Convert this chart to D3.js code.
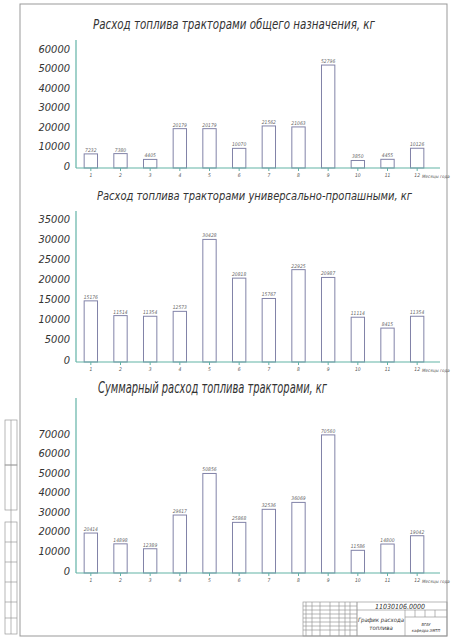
<!DOCTYPE html>
<html>
<head>
    <meta charset="utf-8">
    <title>График расхода топлива</title>
    <script src="https://d3js.org/d3.v7.min.js"></script>
    <style>
        body { margin: 0; background: #fff; }
        svg { display: block; }
        text { font-family: "DejaVu Sans Condensed", "DejaVu Sans", sans-serif; font-style: italic; fill: #333; }
    </style>
</head>
<body>
    <svg id="chart"></svg>

    <script>
        // data
        const months = ["1", "2", "3", "4", "5", "6", "7", "8", "9", "10", "11", "12"];
        const generalUse = [7232, 7380, 4405, 20179, 20179, 10070, 21562, 21063, 52796, 3850, 4455, 10126];
        const rowCrop = [15176, 11514, 11354, 12573, 30428, 20818, 15767, 22925, 20987, 11114, 8415, 11354];
        const totalUse = [20414, 14898, 12389, 29617, 50856, 25868, 32536, 36069, 70560, 11586, 14800, 19042];
        const ticks1 = [0, 10000, 20000, 30000, 40000, 50000, 60000];
        const ticks2 = [0, 5000, 10000, 15000, 20000, 25000, 30000, 35000];
        const ticks3 = [0, 10000, 20000, 30000, 40000, 50000, 60000, 70000];

        const width = 452;
        const height = 640;
        const axisColor = "#62b3a6";
        const barColor = "#8283a8";

        const svg = d3.select("#chart")
            .attr("width", width)
            .attr("height", height);

        // drawing frame
        svg.append("rect")
            .attr("x", 20).attr("y", 4)
            .attr("width", 427).attr("height", 632)
            .attr("fill", "none").attr("stroke", "#999").attr("stroke-width", 1);

        const xScale = d3.scaleBand()
            .domain(months)
            .range([76, 432])
            .paddingInner(0.55)
            .paddingOuter(0.275);

        function drawChart(cfg) {
            const g = svg.append("g");
            const yScale = d3.scaleLinear()
                .domain([0, cfg.max])
                .range([cfg.base, cfg.top]);

            // title
            g.append("text")
                .attr("x", cfg.titleX)
                .attr("y", cfg.titleY)
                .attr("textLength", cfg.titleW)
                .attr("lengthAdjust", "spacingAndGlyphs")
                .style("font-size", cfg.titleSize + "px")
                .text(cfg.title);

            // bars
            g.selectAll(".bar")
                .data(cfg.values)
                .enter()
                .append("rect")
                .attr("x", (d, i) => xScale(months[i]))
                .attr("y", d => yScale(d))
                .attr("width", xScale.bandwidth())
                .attr("height", d => cfg.base - yScale(d))
                .attr("fill", "#fff")
                .attr("stroke", barColor)
                .attr("stroke-width", 1);

            // value labels
            g.selectAll(".val")
                .data(cfg.values)
                .enter()
                .append("text")
                .attr("x", (d, i) => xScale(months[i]) + xScale.bandwidth() / 2)
                .attr("y", d => yScale(d) - 2)
                .attr("text-anchor", "middle")
                .style("font-size", "5px")
                .style("fill", "#666")
                .text(d => d);

            // y axis
            const yAxis = g.append("g")
                .attr("transform", "translate(76,0)")
                .call(d3.axisLeft(yScale).tickValues(cfg.ticks).tickSize(0).tickPadding(6).tickFormat(d3.format("d")));
            yAxis.select(".domain").remove();
            yAxis.selectAll("text")
                .attr("dy", "0.1em")
                .style("font-size", "11px")
                .style("font-family", "'DejaVu Sans Condensed', sans-serif")
                .style("fill", "#333");
            g.append("line")
                .attr("x1", 76).attr("x2", 76)
                .attr("y1", cfg.axisTop).attr("y2", cfg.base)
                .attr("stroke", axisColor).attr("stroke-width", 1.2);

            // x axis
            const xAxis = g.append("g")
                .attr("transform", `translate(0,${cfg.base})`)
                .call(d3.axisBottom(xScale).tickSize(3).tickPadding(2));
            xAxis.select(".domain").remove();
            xAxis.selectAll("line").attr("stroke", axisColor);
            xAxis.selectAll("text")
                .style("font-size", "5px")
                .style("fill", "#555");
            g.append("line")
                .attr("x1", 76).attr("x2", 440)
                .attr("y1", cfg.base).attr("y2", cfg.base)
                .attr("stroke", axisColor).attr("stroke-width", 1.2);

            g.append("text")
                .attr("x", 422)
                .attr("y", cfg.base + 10)
                .attr("text-anchor", "start")
                .style("font-size", "4.5px")
                .style("fill", "#555")
                .text("Месяцы года");
        }

        drawChart({
            title: "Расход топлива тракторами общего назначения, кг",
            titleX: 93, titleY: 29, titleW: 282, titleSize: 14,
            values: generalUse, ticks: ticks1, max: 60000,
            base: 168, top: 51, axisTop: 40
        });

        drawChart({
            title: "Расход топлива тракторами универсально-пропашными, кг",
            titleX: 97, titleY: 200, titleW: 315, titleSize: 12,
            values: rowCrop, ticks: ticks2, max: 35000,
            base: 362, top: 221, axisTop: 211
        });

        drawChart({
            title: "Суммарный расход топлива тракторами, кг",
            titleX: 98, titleY: 393, titleW: 229, titleSize: 16,
            values: totalUse, ticks: ticks3, max: 70000,
            base: 573, top: 436, axisTop: 398
        });

        // left margin stamp
        const stamp = svg.append("g")
            .attr("fill", "none").attr("stroke", "#999").attr("stroke-width", 0.7);
        stamp.append("rect").attr("x", 5).attr("y", 420).attr("width", 12).attr("height", 45);
        stamp.append("rect").attr("x", 5).attr("y", 465).attr("width", 12).attr("height", 45);
        stamp.append("rect").attr("x", 5).attr("y", 522).attr("width", 12).attr("height", 112);
        [542, 562, 582, 602, 618].forEach(y => {
            stamp.append("line").attr("x1", 5).attr("x2", 17).attr("y1", y).attr("y2", y);
        });
        stamp.append("line").attr("x1", 11).attr("x2", 11).attr("y1", 420).attr("y2", 634);

        // title block
        const tb = svg.append("g")
            .attr("fill", "none").attr("stroke", "#999").attr("stroke-width", 0.7);
        tb.append("rect").attr("x", 303).attr("y", 602).attr("width", 144).attr("height", 34);
        [306, 312, 320, 330, 339, 345, 350].forEach(x => {
            tb.append("line").attr("x1", x).attr("x2", x).attr("y1", 602).attr("y2", 636);
        });
        tb.append("line").attr("x1", 357).attr("x2", 357).attr("y1", 602).attr("y2", 636).attr("stroke-width", 1);
        tb.append("line").attr("x1", 405).attr("x2", 405).attr("y1", 610).attr("y2", 636);
        tb.append("line").attr("x1", 357).attr("x2", 447).attr("y1", 610).attr("y2", 610);
        tb.append("line").attr("x1", 405).attr("x2", 447).attr("y1", 617).attr("y2", 617);
        [415, 425, 435].forEach(x => {
            tb.append("line").attr("x1", x).attr("x2", x).attr("y1", 610).attr("y2", 617);
        });
        [606, 610, 614, 618, 622, 626, 630].forEach(y => {
            tb.append("line").attr("x1", 303).attr("x2", 357).attr("y1", y).attr("y2", y);
        });

        svg.append("text").attr("x", 400).attr("y", 609)
            .attr("text-anchor", "middle").style("font-size", "7px").text("11030106.0000");
        svg.append("text").attr("x", 381).attr("y", 622)
            .attr("text-anchor", "middle").style("font-size", "6px").text("График расхода");
        svg.append("text").attr("x", 381).attr("y", 630)
            .attr("text-anchor", "middle").style("font-size", "6px").text("топлива");
        svg.append("text").attr("x", 426).attr("y", 626)
            .attr("text-anchor", "middle").style("font-size", "4px").text("ВГАУ");
        svg.append("text").attr("x", 426).attr("y", 632)
            .attr("text-anchor", "middle").style("font-size", "4px").text("кафедра ЭМТП");
    </script>
</body>
</html>
